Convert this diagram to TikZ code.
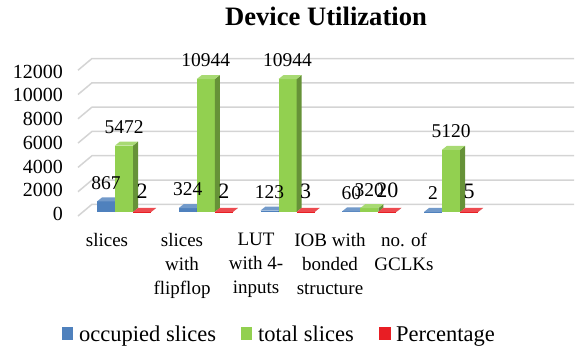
\documentclass[tikz,border=0pt]{standalone}
\usepackage{fontspec}
\setmainfont{Liberation Serif}
\definecolor{occblue}{RGB}{79,129,189}
\definecolor{totgreen}{RGB}{146,208,80}
\definecolor{pctred}{RGB}{232,30,36}
\definecolor{gridgray}{RGB}{212,212,212}
% one 3d column: left x, height, colour
\newcommand{\utilbar}[3]{%
  \fill[#3] (#1,212) rectangle ++(18,-#2);
  \fill[#3!70!black] (#1+18,212) -- ++(5,-4) -- ++(0,-#2) -- ++(-5,4) -- cycle;
  \fill[#3!80!white] (#1,212-#2) -- ++(18,0) -- ++(5,-4) -- ++(-18,0) -- cycle;}

\begin{document}
\begin{tikzpicture}[x=1pt,y=-1pt,line join=round,
    titlelbl/.style={anchor=base,inner sep=0pt,font=\fontsize{26.6}{30}\selectfont\bfseries},
    ticklbl/.style={anchor=east,inner sep=0pt,font=\fontsize{20}{24}\selectfont},
    datalbl/.style={inner sep=0pt,font=\fontsize{19.5}{24}\selectfont},
    pctlbl/.style={inner sep=0pt,font=\fontsize{22}{26}\selectfont},
    catlbl/.style={anchor=north,align=center,inner sep=0pt,font=\fontsize{19}{24}\selectfont},
    legtxt/.style={anchor=base west,inner sep=0pt,font=\fontsize{22.5}{26}\selectfont}]
  \useasboundingbox (0,0) rectangle (575,351);
  \node[titlelbl] (title) at (326,25) {Device Utilization};
  % grid and axis
  \foreach \k/\v in {0/0,1/2000,2/4000,3/6000,4/8000,5/10000,6/12000}{
    \draw[gridgray,line width=1.5pt] (78,216-\k*24.3)--(92,204.3-\k*24.3)--(574,204.3-\k*24.3);
    \node[ticklbl] (tick\k) at (63,214-\k*23.72) {\v};
  }
  % columns
  \foreach \i/\a/\b/\c in {0/867/5472/2,1/324/10944/2,2/123/10944/3,3/60/320/20,4/2/5120/5}{
    \pgfmathsetmacro{\xg}{115+81.75*\i}
    \pgfmathsetmacro{\ha}{\a*0.01215}
    \pgfmathsetmacro{\hb}{\b*0.01215}
    \pgfmathsetmacro{\hc}{\c*0.01215}
    \utilbar{\xg-18}{\ha}{occblue}
    \utilbar{\xg}{\hb}{totgreen}
    \utilbar{\xg+18}{\hc}{pctred}
    \node[datalbl] (occ\i) at (\xg-9,193.5-\ha) {\a};
    \node[datalbl] (tot\i) at (\xg+9,193.5-\hb) {\b};
    \node[pctlbl] (pct\i) at (\xg+27,191-\hc) {\c};
  }
  % categories
  \node[catlbl] (cat1) at (107,233) {slices};
  \node[catlbl] (cat2) at (182,233) {slices\\with\\flipflop};
  \node[catlbl] (cat3) at (256,233) {LUT\\with 4-\\inputs};
  \node[catlbl] (cat4) at (330,233) {IOB with\\bonded\\structure};
  \node[catlbl] (cat5) at (404,233) {no. of\\GCLKs};
  % legend
  \fill[occblue] (62,327) rectangle (73,340);
  \node[legtxt] (legocc) at (79,341) {occupied slices};
  \fill[totgreen] (241,327) rectangle (252,340);
  \node[legtxt] (legtot) at (258,341) {total slices};
  \fill[pctred] (379,327) rectangle (391,340);
  \node[legtxt] (legpct) at (396,341) {Percentage};
\end{tikzpicture}
\end{document}
